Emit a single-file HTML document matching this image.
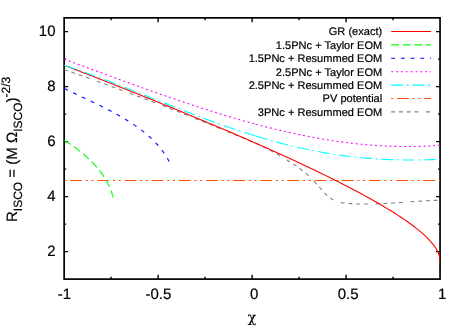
<!DOCTYPE html>
<html><head><meta charset="utf-8"><title>R_ISCO vs chi</title>
<style>html,body{margin:0;padding:0;background:#fff}body{width:467px;height:327px;overflow:hidden}</style></head>
<body>
<svg width="467" height="327" viewBox="0 0 467 327" style="display:block;text-rendering:geometricPrecision">
<rect width="467" height="327" fill="#fff"/>
<defs><clipPath id="c"><rect x="64.15" y="17.85" width="375.9" height="261.25"/></clipPath></defs>
<g fill="none">
<path d="M391.2,31.50 L431,31.50" stroke="#ff0000" stroke-width="1.1"/>
<path d="M391.2,44.90 L431,44.90" stroke="#00ff00" stroke-width="1.1" stroke-dasharray="7.76,3.88"/>
<path d="M391.2,58.30 L431,58.30" stroke="#0000ff" stroke-width="1.1" stroke-dasharray="3.88,5.82"/>
<path d="M391.2,71.70 L431,71.70" stroke="#ff00ff" stroke-width="1.1" stroke-dasharray="1.94,2.91"/>
<path d="M391.2,85.10 L431,85.10" stroke="#00ffff" stroke-width="1.1" stroke-dasharray="11.64,3.88,1.94,3.88"/>
<path d="M391.2,98.50 L431,98.50" stroke="#ff4d00" stroke-width="1.1" stroke-dasharray="1.94,3.88,11.64,3.88,1.94,3.88"/>
<path d="M391.2,111.90 L431,111.90" stroke="#808080" stroke-width="1.1" stroke-dasharray="3.88,3.88,3.88,3.88,3.88,3.88,3.88,7.76"/>
</g>
<g font-family="'Liberation Sans', Arial, Helvetica, sans-serif" font-size="11.05" fill="#000" stroke="#000" stroke-width="0.2" text-anchor="end">
<text x="382.2" y="35.40">GR (exact)</text>
<text x="382.2" y="48.80">1.5PNc + Taylor EOM</text>
<text x="382.2" y="62.20">1.5PNc + Resummed EOM</text>
<text x="382.2" y="75.60">2.5PNc + Taylor EOM</text>
<text x="382.2" y="89.00">2.5PNc + Resummed EOM</text>
<text x="382.2" y="102.40">PV potential</text>
<text x="382.2" y="115.80">3PNc + Resummed EOM</text>
</g>
<path d="M158.12,279.1 v-4.4 M158.12,17.85 v4.4 M252.10,279.1 v-4.4 M252.10,17.85 v4.4 M346.07,279.1 v-4.4 M346.07,17.85 v4.4 M111.14,279.1 v-2.3 M111.14,17.85 v2.3 M205.11,279.1 v-2.3 M205.11,17.85 v2.3 M299.09,279.1 v-2.3 M299.09,17.85 v2.3 M393.06,279.1 v-2.3 M393.06,17.85 v2.3" stroke="#000" stroke-width="1.4" fill="none"/>
<path d="M64.15,251.60 h4.0 M440.05,251.60 h-4.0 M64.15,196.60 h4.0 M440.05,196.60 h-4.0 M64.15,141.60 h4.0 M440.05,141.60 h-4.0 M64.15,86.60 h4.0 M440.05,86.60 h-4.0 M64.15,31.60 h4.0 M440.05,31.60 h-4.0 M64.15,224.10 h2.0 M440.05,224.10 h-2.0 M64.15,169.10 h2.0 M440.05,169.10 h-2.0 M64.15,114.10 h2.0 M440.05,114.10 h-2.0 M64.15,59.10 h2.0 M440.05,59.10 h-2.0" stroke="#000" stroke-width="1.05" fill="none"/>
<rect x="64.15" y="17.85" width="375.9" height="261.25" fill="none" stroke="#000" stroke-width="1.7"/>
<g fill="none" stroke-linejoin="round" clip-path="url(#c)">
<path d="M64.06,69.52 L65.37,69.98 L66.68,70.44 L67.99,70.89 L69.29,71.35 L70.60,71.81 L71.91,72.27 L73.21,72.73 L74.51,73.19 L75.82,73.65 L77.12,74.11 L78.42,74.57 L79.72,75.03 L81.02,75.49 L82.32,75.96 L83.62,76.42 L84.92,76.88 L86.21,77.34 L87.51,77.80 L88.80,78.27 L90.10,78.73 L91.39,79.19 L92.68,79.66 L93.98,80.12 L95.27,80.58 L96.56,81.05 L97.85,81.51 L99.14,81.98 L100.43,82.45 L101.71,82.91 L103.00,83.38 L104.29,83.84 L105.58,84.31 L106.86,84.78 L108.15,85.25 L109.43,85.72 L110.72,86.18 L112.00,86.65 L113.28,87.12 L114.57,87.59 L115.85,88.06 L117.13,88.54 L118.41,89.01 L119.70,89.48 L120.98,89.95 L122.26,90.42 L123.54,90.90 L124.82,91.37 L126.10,91.85 L127.38,92.32 L128.65,92.80 L129.93,93.27 L131.21,93.75 L132.49,94.22 L133.77,94.70 L135.04,95.18 L136.32,95.66 L137.60,96.14 L138.88,96.62 L140.15,97.10 L141.43,97.58 L142.71,98.06 L143.98,98.54 L145.26,99.02 L146.53,99.51 L147.81,99.99 L149.09,100.47 L150.36,100.96 L151.64,101.44 L152.91,101.93 L154.19,102.42 L155.46,102.90 L156.74,103.39 L158.01,103.88 L159.29,104.37 L160.57,104.86 L161.84,105.35 L163.12,105.84 L164.39,106.33 L165.67,106.83 L166.94,107.32 L168.22,107.81 L169.50,108.31 L170.77,108.81 L172.05,109.30 L173.33,109.80 L174.60,110.30 L175.88,110.79 L177.16,111.29 L178.44,111.79 L179.71,112.30 L180.99,112.80 L182.27,113.30 L183.55,113.80 L184.83,114.31 L186.11,114.81 L187.39,115.32 L188.67,115.82 L189.95,116.33 L191.23,116.84 L192.51,117.35 L193.79,117.86 L195.07,118.37 L196.35,118.88 L197.64,119.39 L198.92,119.90 L200.20,120.42 L201.49,120.93 L202.77,121.45 L204.06,121.96 L205.34,122.48 L206.63,123.00 L207.91,123.52 L209.20,124.04 L210.48,124.56 L211.76,125.08 L213.05,125.60 L214.33,126.12 L215.62,126.64 L216.90,127.16 L218.18,127.68 L219.46,128.21 L220.75,128.73 L222.03,129.25 L223.31,129.77 L224.59,130.30 L225.86,130.82 L227.14,131.35 L228.42,131.87 L229.69,132.39 L230.97,132.92 L232.24,133.44 L233.51,133.97 L234.78,134.49 L236.05,135.02 L237.32,135.54 L238.59,136.06 L239.85,136.59 L241.12,137.11 L242.38,137.63 L243.64,138.16 L244.90,138.68 L246.15,139.21 L247.41,139.74 L248.66,140.27 L249.91,140.80 L251.16,141.33 L252.40,141.87 L253.65,142.42 L254.89,142.96 L255.85,143.39" stroke="#808080" stroke-width="1.1" stroke-dasharray="3.88,3.88,3.88,3.88,3.88,3.88,3.88,7.76"/>
<path d="M255.85,143.39 L256.13,143.51 L257.36,144.07 L258.60,144.63 L259.83,145.20 L261.06,145.77 L262.28,146.35 L263.51,146.94 L264.73,147.53 L265.94,148.13 L267.16,148.74 L268.37,149.36 L269.58,149.99 L270.78,150.62 L271.99,151.27 L273.19,151.93 L274.38,152.59 L275.57,153.27 L276.76,153.95 L277.95,154.64 L279.13,155.33 L280.31,156.03 L281.48,156.73 L282.65,157.44 L283.82,158.15 L284.98,158.86 L286.14,159.57 L287.30,160.28 L288.45,161.00 L289.60,161.71 L290.74,162.42 L291.88,163.14 L293.01,163.86 L294.14,164.59 L295.26,165.33 L296.39,166.09 L297.50,166.85 L298.61,167.64 L299.72,168.44 L300.82,169.26 L301.92,170.10 L303.01,170.96 L304.09,171.83 L305.16,172.72 L306.22,173.63 L307.27,174.56 L308.31,175.49 L309.34,176.44 L310.35,177.40 L311.34,178.38 L312.32,179.36 L313.28,180.35 L314.22,181.35 L315.15,182.36 L316.06,183.37 L316.97,184.39 L317.86,185.41 L318.76,186.44 L319.65,187.47 L320.55,188.50 L321.46,189.53 L322.38,190.56 L323.32,191.58 L324.27,192.60 L325.24,193.61 L326.23,194.59 L327.24,195.54 L328.27,196.46 L329.33,197.33 L330.42,198.16 L331.53,198.93 L332.67,199.63 L333.84,200.26 L335.05,200.82 L336.28,201.31 L337.54,201.73 L338.82,202.09 L340.12,202.41 L341.44,202.67 L342.78,202.89 L344.13,203.07 L345.49,203.23 L346.85,203.35 L348.23,203.46 L349.60,203.56 L350.98,203.64 L352.35,203.71 L353.73,203.78 L355.10,203.84 L356.48,203.89 L357.86,203.93 L359.23,203.96 L360.61,203.99 L361.98,204.01 L363.36,204.03 L364.73,204.03 L366.10,204.03 L367.48,204.02 L368.85,204.01 L370.23,203.99 L371.60,203.97 L372.97,203.94 L374.35,203.91 L375.72,203.87 L377.09,203.82 L378.47,203.77 L379.84,203.72 L381.21,203.66 L382.59,203.60 L383.96,203.53 L385.33,203.46 L386.70,203.39 L388.07,203.32 L389.45,203.24 L390.82,203.16 L392.19,203.07 L393.56,202.99 L394.93,202.90 L396.30,202.81 L397.67,202.72 L399.04,202.62 L400.41,202.53 L401.78,202.44 L403.15,202.34 L404.52,202.24 L405.89,202.15 L407.26,202.05 L408.62,201.95 L409.99,201.86 L411.36,201.76 L412.73,201.67 L414.10,201.57 L415.46,201.48 L416.83,201.39 L418.20,201.30 L419.56,201.21 L420.93,201.12 L422.30,201.04 L423.66,200.96 L425.03,200.88 L426.39,200.80 L427.76,200.73 L429.12,200.66 L430.48,200.59 L431.85,200.53 L433.21,200.47 L434.58,200.41 L435.94,200.36 L437.30,200.32 L438.66,200.28 L440.02,200.24" stroke="#808080" stroke-width="1.1" stroke-dasharray="3.88,3.88,3.88,3.88,3.88,3.88,3.88,7.76"/>
<path d="M64.45,180.50 L440.05,180.50" stroke="#ff4d00" stroke-width="1.1" stroke-dasharray="1.94,3.88,11.64,3.88,1.94,3.88"/>
<path d="M64.15,65.25 L66.55,66.17 L68.94,67.09 L71.34,68.01 L73.74,68.94 L76.13,69.86 L78.53,70.79 L80.93,71.71 L83.32,72.64 L85.72,73.57 L88.12,74.50 L90.51,75.43 L92.91,76.36 L95.31,77.30 L97.70,78.23 L100.10,79.16 L102.50,80.10 L104.89,81.04 L107.29,81.98 L109.69,82.92 L112.08,83.86 L114.48,84.80 L116.88,85.75 L119.27,86.69 L121.67,87.64 L124.07,88.58 L126.46,89.53 L128.86,90.48 L131.26,91.44 L133.65,92.39 L136.05,93.34 L138.45,94.30 L140.84,95.25 L143.24,96.21 L145.64,97.17 L148.03,98.13 L150.43,99.10 L152.83,100.06 L155.22,101.03 L157.62,101.99 L160.02,102.96 L162.41,103.93 L164.81,104.90 L167.21,105.88 L169.60,106.85 L172.00,107.83 L174.40,108.81 L176.79,109.79 L179.19,110.77 L181.59,111.75 L183.98,112.74 L186.38,113.73 L188.78,114.71 L191.17,115.70 L193.57,116.70 L195.97,117.69 L198.36,118.69 L200.76,119.69 L203.16,120.69 L205.55,121.69 L207.95,122.69 L210.35,123.70 L212.74,124.71 L215.14,125.72 L217.54,126.73 L219.93,127.75 L222.33,128.76 L224.73,129.78 L227.12,130.80 L229.52,131.83 L231.92,132.85 L234.31,133.88 L236.71,134.92 L239.11,135.95 L241.50,136.99 L243.90,138.02 L246.30,139.07 L248.69,140.11 L251.09,141.16 L253.49,142.21 L255.88,143.26 L258.28,144.32 L260.68,145.38 L263.07,146.44 L265.47,147.50 L267.87,148.57 L270.26,149.64 L272.66,150.72 L275.06,151.80 L277.45,152.88 L279.85,153.96 L282.25,155.05 L284.64,156.14 L287.04,157.24 L289.44,158.34 L291.83,159.44 L294.23,160.55 L296.63,161.67 L299.02,162.78 L301.42,163.90 L303.82,165.03 L306.21,166.16 L308.61,167.29 L311.01,168.43 L313.40,169.58 L315.80,170.73 L318.20,171.88 L320.59,173.05 L322.99,174.21 L325.39,175.38 L327.78,176.56 L330.18,177.75 L332.58,178.94 L334.97,180.14 L337.37,181.34 L339.77,182.55 L342.16,183.77 L344.56,185.00 L346.96,186.23 L349.35,187.48 L351.75,188.73 L354.15,189.99 L356.54,191.26 L358.94,192.54 L361.34,193.83 L363.73,195.13 L366.13,196.44 L368.53,197.77 L370.92,199.10 L373.32,200.45 L375.72,201.82 L378.11,203.19 L380.51,204.59 L382.91,206.00 L385.30,207.42 L387.70,208.87 L390.10,210.34 L392.49,211.82 L394.89,213.33 L397.29,214.87 L399.68,216.43 L402.08,218.03 L404.48,219.65 L406.87,221.31 L409.27,223.02 L411.67,224.77 L414.06,226.56 L416.46,228.42 L418.86,230.35 L421.25,232.36 L421.25,232.36 L423.80,234.60 L426.01,236.65 L427.91,238.53 L429.56,240.25 L430.98,241.82 L432.21,243.27 L433.27,244.60 L434.19,245.83 L434.99,246.96 L435.67,248.01 L436.27,248.97 L436.78,249.86 L437.22,250.69 L437.61,251.45 L437.94,252.17 L438.22,252.83 L438.47,253.44 L438.69,254.01 L438.87,254.54 L439.03,255.04 L439.17,255.50 L439.29,255.94 L439.39,256.34 L439.48,256.72 L439.56,257.07 L439.62,257.40 L439.68,257.71 L439.73,258.00 L439.78,258.28 L439.81,258.53 L439.84,258.77 L439.87,259.00 L439.90,259.21 L439.92,259.41 L439.94,259.60 L439.95,259.78 L439.96,259.95 L439.98,260.10 L439.99,260.25 L439.99,260.39 L440.00,260.53 L440.01,260.65 L440.01,260.77 L440.02,260.88 L440.02,260.99 L440.03,261.09 L440.03,261.18 L440.03,261.27 L440.04,261.36 L440.04,261.44 L440.04,261.51 L440.04,261.58 L440.04,261.65 L440.04,261.72 L440.04,261.78 L440.04,261.84 L440.05,261.89 L440.05,261.94 L440.05,261.99 L440.05,262.04 L440.05,262.08 L440.05,262.13 L440.05,262.17 L440.05,262.20 L440.05,262.24 L440.05,262.28 L440.05,262.31 L440.05,262.34 L440.05,262.37 L440.05,262.40 L440.05,262.42 L440.05,262.45 L440.05,262.47 L440.05,262.50 L440.05,262.52 L440.05,262.54 L440.05,262.56 L440.05,262.58 L440.05,262.59 L440.05,262.95" stroke="#ff0000" stroke-width="1.1"/>
<path d="M64.28,140.24 L64.68,140.49 L65.08,140.74 L65.48,141.00 L65.88,141.25 L66.28,141.51 L66.68,141.76 L67.08,142.02 L67.48,142.28 L67.87,142.54 L68.27,142.81 L68.67,143.07 L69.07,143.34 L69.47,143.60 L69.87,143.87 L70.26,144.14 L70.66,144.41 L71.06,144.68 L71.46,144.95 L71.85,145.23 L72.25,145.50 L72.64,145.78 L73.04,146.06 L73.43,146.34 L73.83,146.62 L74.22,146.90 L74.61,147.19 L75.00,147.47 L75.40,147.76 L75.79,148.05 L76.18,148.34 L76.57,148.63 L76.96,148.92 L77.35,149.21 L77.73,149.51 L78.12,149.80 L78.51,150.10 L78.89,150.40 L79.28,150.70 L79.66,151.00 L80.04,151.30 L80.43,151.60 L80.81,151.91 L81.19,152.22 L81.57,152.52 L81.95,152.83 L82.32,153.14 L82.70,153.46 L83.07,153.77 L83.45,154.08 L83.82,154.40 L84.19,154.72 L84.57,155.04 L84.93,155.36 L85.30,155.68 L85.67,156.00 L86.04,156.33 L86.40,156.65 L86.77,156.98 L87.13,157.31 L87.49,157.64 L87.85,157.97 L88.21,158.30 L88.57,158.64 L88.92,158.97 L89.28,159.31 L89.63,159.65 L89.98,159.99 L90.33,160.33 L90.68,160.67 L91.03,161.02 L91.37,161.36 L91.72,161.71 L92.06,162.06 L92.40,162.41 L92.74,162.76 L93.08,163.11 L93.41,163.46 L93.75,163.82 L94.08,164.18 L94.41,164.53 L94.74,164.89 L95.07,165.26 L95.39,165.62 L95.72,165.98 L96.04,166.35 L96.36,166.71 L96.68,167.08 L96.99,167.45 L97.31,167.82 L97.62,168.19 L97.93,168.57 L98.24,168.94 L98.54,169.32 L98.85,169.70 L99.15,170.08 L99.45,170.46 L99.75,170.84 L100.04,171.23 L100.34,171.61 L100.63,172.00 L100.92,172.39 L101.20,172.78 L101.49,173.17 L101.77,173.56 L102.05,173.95 L102.33,174.35 L102.60,174.75 L102.88,175.15 L103.15,175.55 L103.42,175.95 L103.68,176.35 L103.94,176.76 L104.21,177.16 L104.46,177.57 L104.72,177.98 L104.97,178.39 L105.22,178.80 L105.47,179.21 L105.72,179.63 L105.96,180.04 L106.20,180.46 L106.44,180.88 L106.68,181.30 L106.91,181.72 L107.14,182.15 L107.36,182.57 L107.59,183.00 L107.81,183.43 L108.03,183.86 L108.24,184.29 L108.46,184.72 L108.67,185.16 L108.87,185.59 L109.08,186.03 L109.28,186.47 L109.48,186.91 L109.67,187.35 L109.86,187.79 L110.05,188.24 L110.24,188.68 L110.42,189.13 L110.60,189.58 L110.78,190.03 L110.95,190.48 L111.12,190.94 L111.29,191.39 L111.45,191.85 L111.61,192.31 L111.77,192.77 L111.93,193.23 L112.08,193.69 L112.22,194.16 L112.37,194.62 L112.51,195.09 L112.65,195.56 L112.78,196.03 L112.91,196.50 L113.04,196.98 L113.16,197.45" stroke="#00ff00" stroke-width="1.1" stroke-dasharray="7.76,3.88"/>
<path d="M64.43,88.61 L65.15,88.97 L65.88,89.32 L66.61,89.67 L67.34,90.02 L68.06,90.38 L68.79,90.73 L69.52,91.08 L70.25,91.43 L70.99,91.77 L71.72,92.12 L72.45,92.47 L73.19,92.82 L73.92,93.17 L74.65,93.51 L75.39,93.86 L76.13,94.21 L76.86,94.56 L77.60,94.90 L78.34,95.25 L79.07,95.60 L79.81,95.94 L80.55,96.29 L81.29,96.64 L82.03,96.98 L82.77,97.33 L83.51,97.68 L84.25,98.03 L84.99,98.37 L85.73,98.72 L86.47,99.07 L87.21,99.42 L87.95,99.77 L88.69,100.12 L89.43,100.47 L90.17,100.82 L90.91,101.17 L91.65,101.53 L92.39,101.88 L93.13,102.23 L93.87,102.59 L94.61,102.94 L95.35,103.30 L96.09,103.66 L96.83,104.02 L97.57,104.37 L98.31,104.73 L99.04,105.10 L99.78,105.46 L100.52,105.82 L101.25,106.19 L101.99,106.55 L102.73,106.92 L103.46,107.29 L104.20,107.66 L104.93,108.03 L105.66,108.40 L106.40,108.77 L107.13,109.15 L107.86,109.53 L108.59,109.90 L109.32,110.28 L110.05,110.67 L110.78,111.05 L111.50,111.43 L112.23,111.82 L112.96,112.21 L113.68,112.60 L114.40,112.99 L115.13,113.39 L115.85,113.78 L116.57,114.18 L117.29,114.58 L118.01,114.98 L118.72,115.39 L119.44,115.79 L120.15,116.20 L120.87,116.61 L121.58,117.03 L122.29,117.44 L123.00,117.86 L123.71,118.28 L124.42,118.70 L125.12,119.13 L125.83,119.55 L126.53,119.98 L127.23,120.42 L127.93,120.85 L128.63,121.29 L129.32,121.73 L130.02,122.17 L130.71,122.62 L131.40,123.07 L132.09,123.52 L132.78,123.98 L133.46,124.43 L134.15,124.89 L134.83,125.36 L135.50,125.83 L136.18,126.29 L136.85,126.77 L137.52,127.24 L138.19,127.72 L138.85,128.21 L139.52,128.69 L140.17,129.18 L140.83,129.67 L141.48,130.17 L142.13,130.67 L142.78,131.17 L143.42,131.68 L144.06,132.19 L144.70,132.70 L145.33,133.22 L145.96,133.74 L146.58,134.26 L147.20,134.79 L147.82,135.32 L148.43,135.86 L149.04,136.40 L149.65,136.94 L150.25,137.49 L150.85,138.04 L151.44,138.60 L152.03,139.16 L152.61,139.72 L153.19,140.29 L153.76,140.86 L154.33,141.44 L154.90,142.02 L155.46,142.61 L156.01,143.20 L156.56,143.79 L157.11,144.39 L157.65,144.99 L158.18,145.60 L158.71,146.21 L159.24,146.83 L159.75,147.45 L160.27,148.07 L160.77,148.70 L161.27,149.34 L161.77,149.98 L162.26,150.62 L162.74,151.27 L163.22,151.93 L163.69,152.59 L164.16,153.25 L164.61,153.92 L165.07,154.60 L165.51,155.27 L165.95,155.96 L166.39,156.65 L166.81,157.34 L167.23,158.04 L167.64,158.75 L168.05,159.46 L168.45,160.18 L168.84,160.90 L169.22,161.63" stroke="#0000ff" stroke-width="1.1" stroke-dasharray="3.88,5.82"/>
<path d="M64.15,59.22 L66.51,60.08 L68.88,60.94 L71.24,61.81 L73.61,62.67 L75.97,63.54 L78.33,64.41 L80.70,65.28 L83.06,66.14 L85.43,67.01 L87.79,67.88 L90.16,68.75 L92.52,69.62 L94.88,70.49 L97.25,71.36 L99.61,72.23 L101.98,73.09 L104.34,73.96 L106.70,74.83 L109.07,75.70 L111.43,76.56 L113.80,77.43 L116.16,78.29 L118.53,79.16 L120.89,80.02 L123.25,80.88 L125.62,81.74 L127.98,82.60 L130.35,83.45 L132.71,84.31 L135.07,85.16 L137.44,86.01 L139.80,86.86 L142.17,87.71 L144.53,88.56 L146.90,89.40 L149.26,90.24 L151.62,91.08 L153.99,91.92 L156.35,92.75 L158.72,93.58 L161.08,94.41 L163.44,95.24 L165.81,96.06 L168.17,96.88 L170.54,97.70 L172.90,98.51 L175.27,99.32 L177.63,100.13 L179.99,100.93 L182.36,101.73 L184.72,102.53 L187.09,103.32 L189.45,104.10 L191.81,104.89 L194.18,105.67 L196.54,106.44 L198.91,107.21 L201.27,107.98 L203.63,108.74 L206.00,109.50 L208.36,110.25 L210.73,111.00 L213.09,111.74 L215.46,112.48 L217.82,113.21 L220.18,113.94 L222.55,114.66 L224.91,115.38 L227.28,116.09 L229.64,116.80 L232.00,117.50 L234.37,118.19 L236.73,118.88 L239.10,119.56 L241.46,120.24 L243.83,120.91 L246.19,121.57 L248.55,122.23 L250.92,122.88 L253.28,123.52 L255.65,124.16 L255.85,124.21" stroke="#ff00ff" stroke-width="1.1" stroke-dasharray="1.94,2.91"/>
<path d="M255.85,124.21 L258.01,124.79 L260.37,125.41 L262.74,126.03 L265.10,126.64 L267.47,127.24 L269.83,127.84 L272.20,128.43 L274.56,129.01 L276.92,129.58 L279.29,130.14 L281.65,130.70 L284.02,131.25 L286.38,131.79 L288.74,132.33 L291.11,132.85 L293.47,133.37 L295.84,133.88 L298.20,134.38 L300.57,134.87 L302.93,135.35 L305.29,135.83 L307.66,136.29 L310.02,136.75 L312.39,137.19 L314.75,137.63 L317.11,138.06 L319.48,138.48 L321.84,138.89 L324.21,139.29 L326.57,139.68 L328.93,140.06 L331.30,140.44 L333.66,140.80 L336.03,141.15 L338.39,141.49 L340.76,141.82 L343.12,142.14 L345.48,142.45 L347.85,142.75 L350.21,143.04 L352.58,143.32 L354.94,143.59 L357.30,143.84 L359.67,144.09 L362.03,144.32 L364.40,144.55 L366.76,144.76 L369.13,144.96 L371.49,145.15 L373.85,145.33 L376.22,145.49 L378.58,145.65 L380.95,145.79 L383.31,145.92 L385.67,146.04 L388.04,146.14 L390.40,146.24 L392.77,146.32 L395.13,146.39 L397.50,146.44 L399.86,146.49 L402.22,146.52 L404.59,146.54 L406.95,146.54 L409.32,146.53 L411.68,146.51 L414.04,146.48 L416.41,146.43 L418.77,146.37 L421.14,146.29 L423.50,146.20 L425.87,146.10 L428.23,145.99 L430.59,145.86 L432.96,145.71 L435.32,145.55 L437.69,145.38 L440.05,145.19" stroke="#ff00ff" stroke-width="1.1" stroke-dasharray="1.94,2.91"/>
<path d="M64.15,65.23 L66.51,66.01 L68.88,66.81 L71.24,67.61 L73.61,68.42 L75.97,69.24 L78.33,70.06 L80.70,70.89 L83.06,71.73 L85.43,72.58 L87.79,73.43 L90.16,74.29 L92.52,75.15 L94.88,76.02 L97.25,76.90 L99.61,77.78 L101.98,78.66 L104.34,79.55 L106.70,80.45 L109.07,81.35 L111.43,82.25 L113.80,83.16 L116.16,84.07 L118.53,84.98 L120.89,85.90 L123.25,86.82 L125.62,87.74 L127.98,88.67 L130.35,89.59 L132.71,90.52 L135.07,91.46 L137.44,92.39 L139.80,93.32 L142.17,94.26 L144.53,95.20 L146.90,96.13 L149.26,97.07 L151.62,98.01 L153.99,98.95 L156.35,99.88 L158.72,100.82 L161.08,101.76 L163.44,102.69 L165.81,103.63 L168.17,104.56 L170.54,105.49 L172.90,106.42 L175.27,107.35 L177.63,108.28 L179.99,109.20 L182.36,110.12 L184.72,111.04 L187.09,111.95 L189.45,112.86 L191.81,113.77 L194.18,114.67 L196.54,115.57 L198.91,116.46 L201.27,117.35 L203.63,118.24 L206.00,119.12 L208.36,119.99 L210.73,120.86 L213.09,121.73 L215.46,122.58 L217.82,123.44 L220.18,124.28 L222.55,125.12 L224.91,125.95 L227.28,126.77 L229.64,127.59 L232.00,128.40 L234.37,129.20 L236.73,130.00 L239.10,130.78 L241.46,131.56 L243.83,132.33 L246.19,133.09 L248.55,133.84 L250.92,134.58 L253.28,135.32 L255.65,136.04 L255.85,136.10" stroke="#00ffff" stroke-width="1.1" stroke-dasharray="11.64,3.88,1.94,3.88"/>
<path d="M255.85,136.10 L258.01,136.75 L260.37,137.46 L262.74,138.16 L265.10,138.84 L267.47,139.52 L269.83,140.19 L272.20,140.85 L274.56,141.50 L276.92,142.13 L279.29,142.76 L281.65,143.38 L284.02,143.99 L286.38,144.59 L288.74,145.18 L291.11,145.75 L293.47,146.32 L295.84,146.87 L298.20,147.42 L300.57,147.95 L302.93,148.48 L305.29,148.99 L307.66,149.49 L310.02,149.98 L312.39,150.46 L314.75,150.93 L317.11,151.38 L319.48,151.82 L321.84,152.26 L324.21,152.68 L326.57,153.09 L328.93,153.48 L331.30,153.87 L333.66,154.24 L336.03,154.60 L338.39,154.95 L340.76,155.28 L343.12,155.60 L345.48,155.91 L347.85,156.21 L350.21,156.50 L352.58,156.77 L354.94,157.03 L357.30,157.28 L359.67,157.52 L362.03,157.74 L364.40,157.96 L366.76,158.16 L369.13,158.35 L371.49,158.53 L373.85,158.70 L376.22,158.86 L378.58,159.01 L380.95,159.14 L383.31,159.27 L385.67,159.38 L388.04,159.49 L390.40,159.58 L392.77,159.66 L395.13,159.74 L397.50,159.80 L399.86,159.85 L402.22,159.90 L404.59,159.93 L406.95,159.95 L409.32,159.97 L411.68,159.97 L414.04,159.97 L416.41,159.95 L418.77,159.93 L421.14,159.89 L423.50,159.85 L425.87,159.80 L428.23,159.74 L430.59,159.67 L432.96,159.60 L435.32,159.51 L437.69,159.42 L440.05,159.31" stroke="#00ffff" stroke-width="1.1" stroke-dasharray="11.64,3.88,1.94,3.88"/>
</g>
<g font-family="'Liberation Sans', Arial, Helvetica, sans-serif" font-size="15" fill="#000" stroke="#000" stroke-width="0.2">
<text x="64.45" y="299.4" text-anchor="middle">-1</text>
<text x="158.43" y="299.4" text-anchor="middle">-0.5</text>
<text x="254.20" y="299.4" text-anchor="middle">0</text>
<text x="348.17" y="299.4" text-anchor="middle">0.5</text>
<text x="442.15" y="299.4" text-anchor="middle">1</text>
<text x="55.5" y="256.40" text-anchor="end">2</text>
<text x="55.5" y="201.40" text-anchor="end">4</text>
<text x="55.5" y="146.40" text-anchor="end">6</text>
<text x="55.5" y="91.40" text-anchor="end">8</text>
<text x="55.5" y="36.40" text-anchor="end">10</text>
<text x="252" y="321.7" text-anchor="middle" font-size="14" font-family="'DejaVu Serif', 'Liberation Serif', serif">χ</text>
<text transform="translate(17,222) rotate(-90)" text-anchor="start">R<tspan font-size="12" dy="4.5">ISCO</tspan><tspan dy="-4.5"> = (M Ω</tspan><tspan font-size="12" dy="4.5">ISCO</tspan><tspan dy="-4.5">)</tspan><tspan font-size="12" dy="-7.3">-2/3</tspan></text>
</g>
</svg>
</body></html>
